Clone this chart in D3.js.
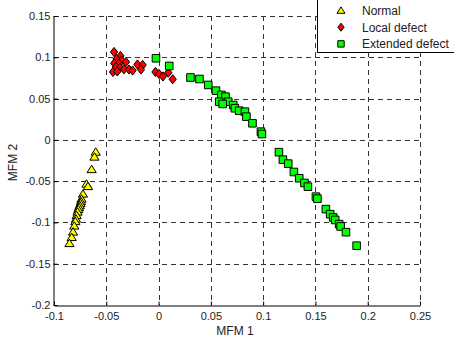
<!DOCTYPE html>
<html>
<head>
<meta charset="utf-8">
<script src="https://d3js.org/d3.v7.min.js"></script>
<style>
	body { margin: 0; background: #fff; }
	text { font-family: "Liberation Sans", Arial, sans-serif; fill: #222; }
</style>
</head>
<body>
<svg id="chart"></svg>
<script>

	// data
	let normalX = [-0.0601, -0.0613, -0.0640, -0.0689, -0.0675, -0.0723, -0.0737, -0.0742, -0.0747, -0.0754,
		-0.0761, -0.0768, -0.0775, -0.0783, -0.0790, -0.0796, -0.0806, -0.0818, -0.0831, -0.0852]
	let normalY = [-0.0147, -0.0207, -0.0358, -0.0534, -0.0564, -0.0655, -0.0716, -0.0746, -0.0770, -0.0794,
		-0.0818, -0.0843, -0.0873, -0.0915, -0.0958, -0.0988, -0.1042, -0.1115, -0.1181, -0.1254]

	let localX = [-0.0426, -0.0364, -0.0402, -0.0353, -0.0424, -0.0379, -0.0312, -0.0407, -0.0369, -0.0331, -0.0436,
		-0.0395, -0.0283, -0.0248, -0.0202, -0.0152, -0.0168, -0.0030, 0.0004, 0.0042, 0.0093, 0.0135]
	let localY = [0.1064, 0.1016, 0.0979, 0.0961, 0.0927, 0.0925, 0.0943, 0.0883, 0.0874, 0.0855, 0.0822,
		0.0828, 0.0852, 0.0840, 0.0913, 0.0907, 0.0852, 0.0822, 0.0798, 0.0768, 0.0814, 0.0734]

	let extX = [-0.0025, 0.0102, 0.0305, 0.0391, 0.0475, 0.0549, 0.0601, 0.0640, 0.0666, 0.0580, 0.0613, 0.0714,
		0.0730, 0.0771, 0.0826, 0.0840, 0.0898, 0.0979, 0.0988, 0.1151, 0.1189, 0.1240, 0.1294, 0.1345,
		0.1395, 0.1428, 0.1505, 0.1519, 0.1600, 0.1641, 0.1670, 0.1689, 0.1727, 0.1741, 0.1792, 0.1894]
	let extY = [0.0988, 0.0895, 0.0755, 0.0737, 0.0665, 0.0596, 0.0544, 0.0523, 0.0462, 0.0462, 0.0435, 0.0422,
		0.0383, 0.0353, 0.0341, 0.0281, 0.0201, 0.0099, 0.0071, -0.0149, -0.0240, -0.0288, -0.0389, -0.0465,
		-0.0522, -0.0567, -0.0688, -0.0712, -0.0839, -0.0900, -0.0940, -0.0970, -0.1021, -0.1049, -0.1118, -0.1282]

	let xTicks = [-0.1, -0.05, 0, 0.05, 0.1, 0.15, 0.2, 0.25]
	let yTicks = [-0.2, -0.15, -0.1, -0.05, 0, 0.05, 0.1, 0.15]
	let seriesNames = ["Normal", "Local defect", "Extended defect"]

	//sizes
	let width = 454
	let height = 342
	let plotLeft = 54, plotRight = 420, plotTop = 16, plotBottom = 305

	let chart = d3.select("#chart")
		.attr("width", width)
		.attr("height", height)

	let xScale = d3.scaleLinear().domain([-0.1, 0.25]).range([plotLeft, plotRight])
	let yScale = d3.scaleLinear().domain([-0.2, 0.15]).range([plotBottom, plotTop])

	let fmt = function(d){ return String(+d.toFixed(2)) }

	// grid, dashed
	let grid = chart.append("g")
	grid.selectAll("line.vg").data(xTicks.slice(1)).enter().append("line")
		.attr("x1", function(d){ return Math.round(xScale(d)) + 0.5 })
		.attr("x2", function(d){ return Math.round(xScale(d)) + 0.5 })
		.attr("y1", plotTop).attr("y2", plotBottom)
		.style("stroke", "#333").style("stroke-dasharray", "5,4")
	grid.selectAll("line.hg").data(yTicks.slice(1)).enter().append("line")
		.attr("y1", function(d){ return Math.round(yScale(d)) + 0.5 })
		.attr("y2", function(d){ return Math.round(yScale(d)) + 0.5 })
		.attr("x1", plotLeft).attr("x2", plotRight)
		.style("stroke", "#333").style("stroke-dasharray", "5,4")

	// axes
	let xAxis = d3.axisBottom(xScale).tickValues(xTicks).tickFormat(fmt).tickSizeInner(-4).tickSizeOuter(0).tickPadding(7)
	let yAxis = d3.axisLeft(yScale).tickValues(yTicks).tickFormat(fmt).tickSizeInner(-4).tickSizeOuter(0).tickPadding(3)

	let xAxisGlyph = chart.append("g")
		.attr("transform", "translate(0," + (plotBottom + 0.5) + ")")
		.call(xAxis)
	let yAxisGlyph = chart.append("g")
		.attr("transform", "translate(" + (plotLeft - 0.5) + ",0)")
		.call(yAxis)
	chart.selectAll(".domain").style("stroke", "#000")
	chart.selectAll(".tick line").style("stroke", "#000")
	chart.selectAll(".tick text").style("font-size", "11px").style("font-family", "Liberation Sans, Arial, sans-serif").style("fill", "#222")

	// markers
	let triPath = "M0,-4.2L4.6,3.2L-4.6,3.2Z"
	let diaPath = "M0,-4.6L3.6,0L0,4.6L-3.6,0Z"
	let sqPath = "M-3.8,-3.8H3.8V3.8H-3.8Z"

	function drawSeries(xs, ys, path, colour){
		chart.append("g").selectAll("path").data(d3.range(xs.length)).enter().append("path")
			.attr("d", path)
			.attr("transform", function(i){ return "translate(" + xScale(xs[i]) + "," + yScale(ys[i]) + ")" })
			.style("fill", colour)
			.style("stroke", "#000")
			.style("stroke-width", 1)
	}
	drawSeries(normalX, normalY, triPath, "#ffff00")
	drawSeries(localX, localY, diaPath, "#ff0000")
	drawSeries(extX, extY, sqPath, "#00ff00")

	// axis labels
	chart.append("text")
		.attr("x", (plotLeft + plotRight) / 2 - 2).attr("y", 335)
		.attr("text-anchor", "middle")
		.style("font-size", "12px")
		.text("MFM 1")
	chart.append("text")
		.attr("transform", "translate(17," + ((plotTop + plotBottom) / 2 + 2) + ") rotate(-90)")
		.attr("text-anchor", "middle")
		.style("font-size", "12px")
		.text("MFM 2")

	// legend
	let legend = chart.append("g")
	legend.append("rect")
		.attr("x", 317.5).attr("y", -2).attr("width", 150).attr("height", 54.5)
		.style("fill", "#fff").style("stroke", "#000")
	let legPaths = ["M0,-3.6L4,2.8L-4,2.8Z", "M0,-4L3.2,0L0,4L-3.2,0Z", "M-3.2,-3.2H3.2V3.2H-3.2Z"]
	let legColours = ["#ffff00", "#ff0000", "#00ff00"]
	let legItems = legend.selectAll("g.item").data(seriesNames).enter().append("g")
		.attr("transform", function(d, i){ return "translate(0," + (10.5 + i * 16.7) + ")" })
	legItems.append("path")
		.attr("d", function(d, i){ return legPaths[i] })
		.attr("transform", "translate(341,0)")
		.style("fill", function(d, i){ return legColours[i] })
		.style("stroke", "#000")
	legItems.append("text")
		.attr("x", 362).attr("y", 4.3)
		.style("font-size", "12px")
		.text(function(d){ return d })

</script>
</body>
</html>
